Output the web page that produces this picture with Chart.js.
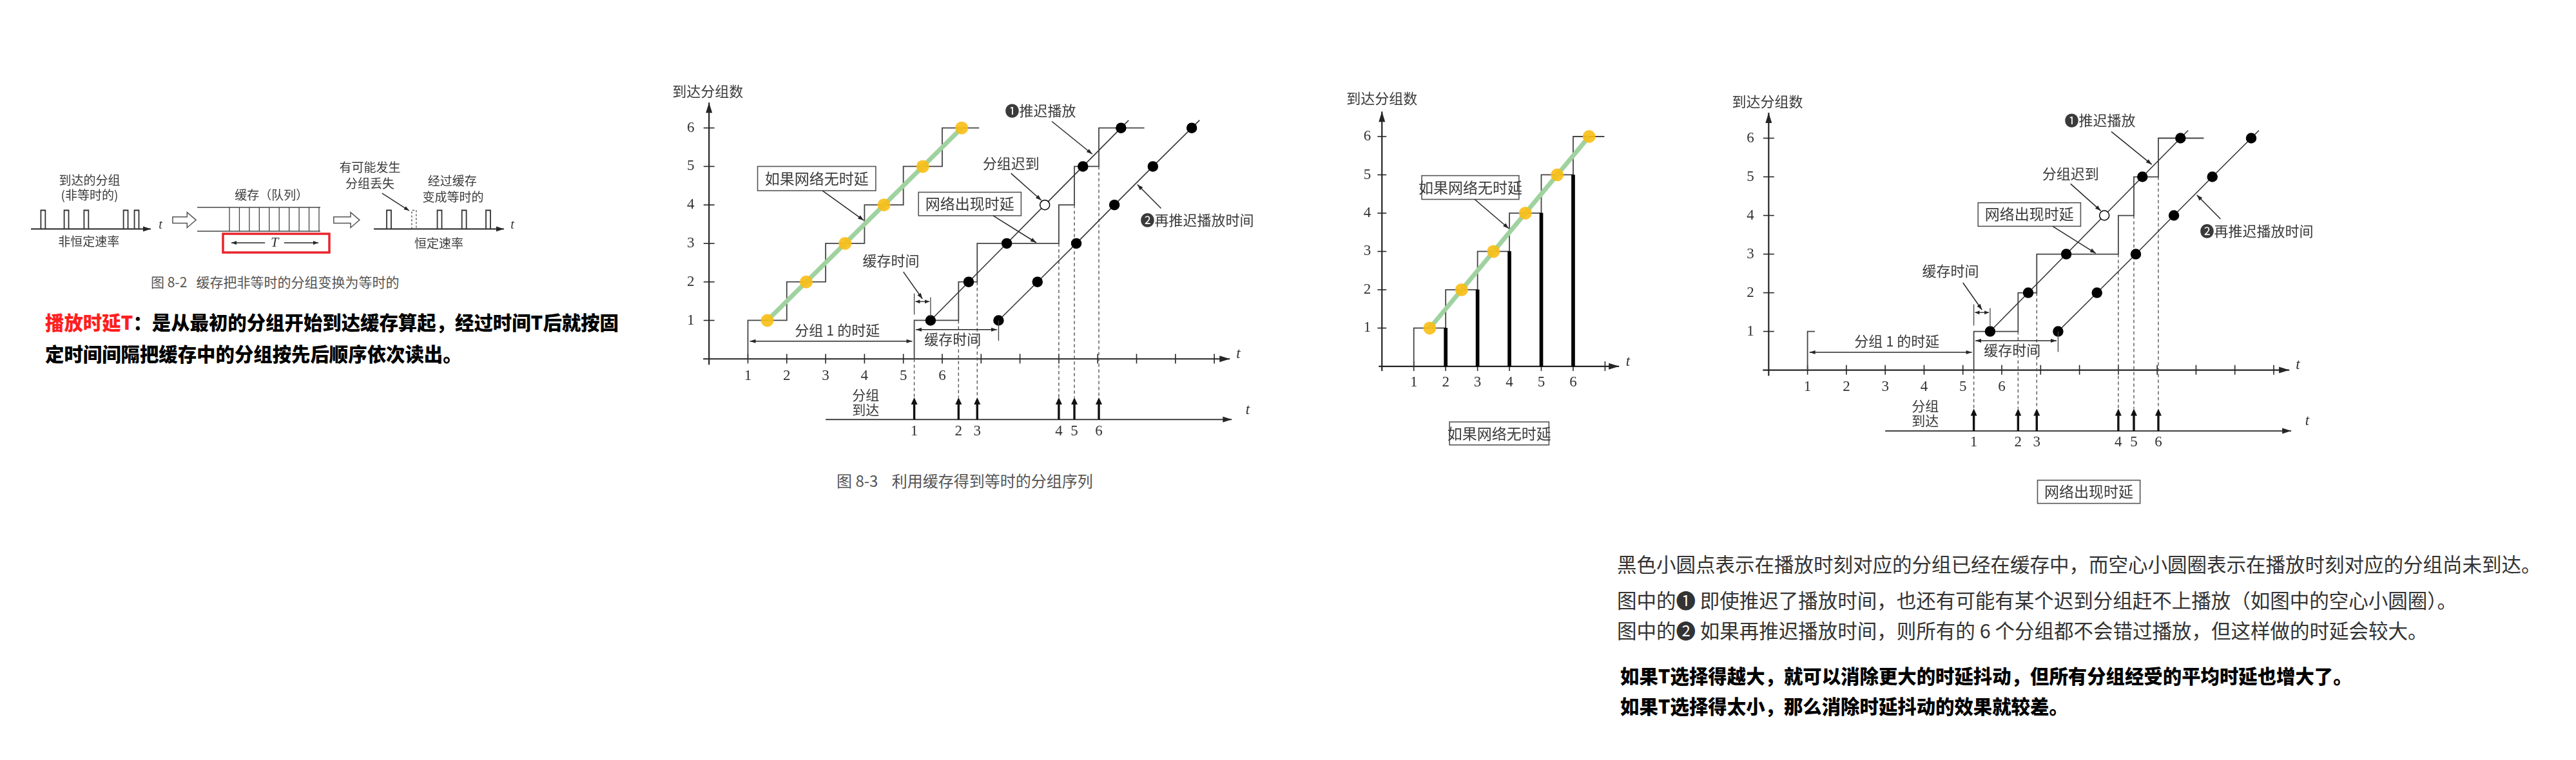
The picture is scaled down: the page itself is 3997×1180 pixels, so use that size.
<!DOCTYPE html>
<html lang="zh-CN">
<head>
<meta charset="utf-8">
<title>利用缓存得到等时的分组序列</title>
<script src="https://cdn.jsdelivr.net/npm/chart.js@4.4.1/dist/chart.umd.min.js"></script>
<style>
html,body{margin:0;padding:0;background:#fff;}
#page{position:relative;width:3997px;height:1180px;overflow:hidden;background:#fff;}
#page canvas{position:absolute;}
.t{position:absolute;white-space:nowrap;line-height:1;font-family:"Noto Sans CJK SC","Noto Sans",sans-serif;}
.bold{font-weight:900;font-size:29.4px;color:#000;}
.gray{font-weight:400;font-size:30.5px;color:#333;}
.cap{font-weight:400;color:#555;}
.red{color:#ff1f1f;}
</style>
</head>
<body>
<div id="page">
  <div class="t cap" style="left:234px;top:427px;font-size:21px;">图 8-2&nbsp;&nbsp;&nbsp;缓存把非等时的分组变换为等时的</div>
  <div class="t bold" style="left:70px;top:485px;"><span class="red">播放时延T</span>：是从最初的分组开始到达缓存算起，经过时间T后就按固</div>
  <div class="t bold" style="left:70px;top:534px;">定时间间隔把缓存中的分组按先后顺序依次读出。</div>
  <div class="t cap" style="left:1298px;top:734px;font-size:24px;">图 8-3&nbsp;&nbsp;&nbsp;&nbsp;利用缓存得到等时的分组序列</div>
  <div class="t gray" style="left:2509px;top:860px;">黑色小圆点表示在播放时刻对应的分组已经在缓存中，而空心小圆圈表示在播放时刻对应的分组尚未到达。</div>
  <div class="t gray" style="left:2509px;top:916px;">图中的❶ 即使推迟了播放时间，也还有可能有某个迟到分组赶不上播放（如图中的空心小圆圈）。</div>
  <div class="t gray" style="left:2509px;top:963px;">图中的❷ 如果再推迟播放时间，则所有的 6 个分组都不会错过播放，但这样做的时延会较大。</div>
  <div class="t bold" style="left:2514px;top:1034px;">如果T选择得越大，就可以消除更大的时延抖动，但所有分组经受的平均时延也增大了。</div>
  <div class="t bold" style="left:2514px;top:1081px;">如果T选择得太小，那么消除时延抖动的效果就较差。</div>
</div>
<script>
// ================= DATA =================
// Fig 8-2: arrival instants of the non-isochronous packets, and isochronous read-out instants
const irregularArrivals = [0.49, 1.43, 2.23, 3.82, 4.26];
const isochronousOutput = [0.61, 1.62, 2.65, 3.64, 4.61];
const lostOutputIndex = [1];
const bufferSlots = 9;

// Fig 8-3 and its two variants
const packets = [1, 2, 3, 4, 5, 6];
const idealArrival = [1, 2, 3, 4, 5, 6];            // no network delay
const idealPlayout = [1.5, 2.5, 3.5, 4.5, 5.5, 6.5];
const idealStepEnd = 6.95;
const delayedArrival = [5.28, 6.42, 6.9, 9.0, 9.4, 10.03];   // with network delay
const delayedStepEnd = 11.2;
const playout1 = [5.7, 6.68, 7.66, 8.64, 9.62, 10.6];       // ❶ delayed playout
const playout2 = [7.45, 8.45, 9.45, 10.43, 11.42, 12.42];   // ❷ further delayed playout
const firstArrivalStubEnd = 1.19;
const xTickValues = [1, 2, 3, 4, 5, 6, 7, 8, 9, 10, 11, 12, 13];
const xTickLabels = ['1', '2', '3', '4', '5', '6'];
const yTickValues = [1, 2, 3, 4, 5, 6];
const yTickLabels = ['1', '2', '3', '4', '5', '6'];
const arrivalLabels = ['1', '2', '3', '4', '5', '6'];

// middle variant: packets waiting in buffer
const bufferedTimes = [2, 3, 4, 5, 6];
const bufferedCounts = [1, 2, 3, 4, 5];
const middleStepEnd = 6.98;
const middleXTicks = [1, 2, 3, 4, 5, 6, 7];

// ================= HELPERS =================
const FONT_CJK = '"Noto Sans CJK SC", "DejaVu Sans", sans-serif';
const FONT_NUM = '"Liberation Serif", "DejaVu Serif", serif';
const INK = '#262626';
const TXT = '#3a3a3a';
const page = document.getElementById('page');

function frameCanvas(f) {
  const left = Math.round(f.ox + f.xmin * f.ux);
  const top = Math.round(f.oy - f.ymax * f.uy);
  const w = Math.round((f.xmax - f.xmin) * f.ux);
  const h = Math.round((f.ymax - f.ymin) * f.uy);
  f.xmin = (left - f.ox) / f.ux; f.xmax = f.xmin + w / f.ux;
  f.ymax = (f.oy - top) / f.uy; f.ymin = f.ymax - h / f.uy;
  const c = document.createElement('canvas');
  c.width = w; c.height = h;
  c.style.left = left + 'px'; c.style.top = top + 'px';
  c.style.width = w + 'px'; c.style.height = h + 'px';
  page.appendChild(c);
  return c;
}

function painter(chart) {
  const ctx = chart.ctx;
  const X = chart.scales.x, Y = chart.scales.y;
  const px = v => X.getPixelForValue(v), py = v => Y.getPixelForValue(v);
  const d = {
    px, py, ctx,
    line(x1, y1, x2, y2, o = {}) {
      ctx.save(); ctx.strokeStyle = o.c || INK; ctx.lineWidth = o.w || 1.6;
      ctx.setLineDash(o.dash || []); ctx.beginPath();
      ctx.moveTo(px(x1), py(y1)); ctx.lineTo(px(x2), py(y2)); ctx.stroke(); ctx.restore();
    },
    head(x1, y1, x2, y2, o = {}) {
      const ax = px(x1), ay = py(y1), bx = px(x2), by = py(y2);
      const L = o.len || 9, H = o.half || 3.5, a = Math.atan2(by - ay, bx - ax);
      ctx.save(); ctx.fillStyle = o.c || INK; ctx.beginPath();
      ctx.moveTo(bx, by);
      ctx.lineTo(bx - L * Math.cos(a) + H * Math.sin(a), by - L * Math.sin(a) - H * Math.cos(a));
      ctx.lineTo(bx - L * Math.cos(a) - H * Math.sin(a), by - L * Math.sin(a) + H * Math.cos(a));
      ctx.closePath(); ctx.fill(); ctx.restore();
    },
    arrow(x1, y1, x2, y2, o = {}) { d.line(x1, y1, x2, y2, o); d.head(x1, y1, x2, y2, o); },
    darrow(x1, y, x2, o = {}) { d.line(x1, y, x2, y, o); d.head(x2, y, x1, y, o); d.head(x1, y, x2, y, o); },
    text(s, x, y, o = {}) {
      ctx.save(); ctx.fillStyle = o.c || TXT;
      ctx.font = (o.style || 'normal') + ' ' + (o.weight || 400) + ' ' + (o.size || 22) + 'px ' + (o.family || FONT_CJK);
      ctx.textAlign = o.align || 'center'; ctx.textBaseline = 'middle';
      ctx.fillText(s, px(x), py(y)); ctx.restore();
    },
    rect(x1, y1, x2, y2, o = {}) {
      ctx.save(); ctx.strokeStyle = o.c || '#555'; ctx.lineWidth = o.w || 1.6;
      ctx.strokeRect(px(x1), py(y2), px(x2) - px(x1), py(y1) - py(y2)); ctx.restore();
    }
  };
  return d;
}

function makeChart(frame, datasets, before, after) {
  const c = frameCanvas(frame);
  return new Chart(c, {
    type: 'line',
    data: { datasets },
    options: {
      responsive: false, animation: false, events: [],
      layout: { padding: 0 },
      plugins: { legend: { display: false }, tooltip: { enabled: false }, title: { display: false } },
      scales: {
        x: { type: 'linear', display: false, bounds: 'data', min: frame.xmin, max: frame.xmax },
        y: { type: 'linear', display: false, bounds: 'data', min: frame.ymin, max: frame.ymax }
      }
    },
    plugins: [{
      id: 'deco',
      beforeDatasetsDraw(chart) { if (before) before(painter(chart)); },
      afterDatasetsDraw(chart) { if (after) after(painter(chart)); }
    }]
  });
}

function stairs(arrivals, endX) {
  const pts = [{ x: arrivals[0], y: 0 }];
  arrivals.forEach((a, i) => {
    if (i > 0) pts.push({ x: a, y: packets[i - 1] });
    pts.push({ x: a, y: packets[i] });
  });
  pts.push({ x: endX, y: packets[packets.length - 1] });
  return pts;
}

function playoutDataset(times, label) {
  const pts = times.map((x, i) => ({ x, y: packets[i] }));
  const n = pts.length;
  const ext = { x: pts[n - 1].x + (pts[n - 1].x - pts[n - 2].x) * 0.2, y: pts[n - 1].y + (pts[n - 1].y - pts[n - 2].y) * 0.2 };
  return {
    label, data: pts.concat([ext]), borderColor: '#333', borderWidth: 1.6,
    pointRadius: times.map(() => 7.5).concat([0]),
    pointBackgroundColor: times.map((t, i) => delayedArrival[i] <= t ? '#000' : '#fff').concat(['#000']),
    pointBorderColor: '#000', pointBorderWidth: 1.5, order: 1
  };
}

function drawAxes(d, a) {
  d.arrow(a.x0, 0, a.x1, 0, { w: 2.2, len: 16, half: 5 });
  d.arrow(0, a.y0, 0, a.y1, { w: 2.2, len: 16, half: 5 });
  a.xTicks.forEach(v => d.line(v, -0.12, v, 0.13, { w: 1.6 }));
  a.yTicks.forEach(v => d.line(-0.14, v, 0.14, v, { w: 1.6 }));
  a.xLabels.forEach((s, i) => d.text(s, a.xTicks[i], a.xLabelY, { family: FONT_NUM, size: 23, c: '#333' }));
  a.yLabels.forEach((s, i) => d.text(s, a.yLabelX, a.yTicks[i], { family: FONT_NUM, size: 23, c: '#333' }));
  d.text('t', a.t[0], a.t[1], { family: FONT_NUM, style: 'italic', size: 23, c: '#333' });
  d.text('到达分组数', a.title[0], a.title[1], { size: 22 });
}

// ---- shared annotations of the delayed-network figure (data units) ----
function drawDelayAnnotations(d, withIdealBox) {
  const T = { size: 22 };
  const P = { w: 1.5, len: 9, half: 3.2 };
  d.text('❶推迟播放', 8.53, 6.46, T);
  d.arrow(8.82, 6.17, 9.86, 5.32, P);
  d.text('分组迟到', 7.77, 5.08, T);
  d.arrow(7.77, 4.82, 8.55, 4.12, P);
  d.rect(5.39, 3.72, 8.03, 4.33, { c: '#555', w: 1.6 });
  d.text('网络出现时延', 6.71, 4.03, { size: 23 });
  d.arrow(7.31, 3.72, 8.42, 3.02, P);
  d.text('❷再推迟播放时间', 12.56, 3.6, T);
  d.arrow(11.63, 3.91, 11.02, 4.53, P);
  if (withIdealBox) {
    d.rect(1.25, 4.37, 4.29, 5.0, { c: '#555', w: 1.6 });
    d.text('如果网络无时延', 2.77, 4.69, { size: 23 });
    d.arrow(2.92, 4.37, 3.98, 3.6, P);
  }
  // buffer time (small) above first playout point
  d.text('缓存时间', 4.68, 2.56, T);
  d.arrow(5.0, 2.26, 5.49, 1.56, P);
  d.line(delayedArrival[0], 1.15, delayedArrival[0], 1.7, { w: 1.3, c: '#444' });
  d.line(playout1[0], 1.1, playout1[0], 1.6, { w: 1.3, c: '#444' });
  d.darrow(delayedArrival[0] + 0.03, 1.49, playout1[0] - 0.03, { w: 1.3, len: 7, half: 3 });
  // delay of packet 1
  d.darrow(idealArrival[0] + 0.05, 0.46, delayedArrival[0] - 0.05, { w: 1.4, len: 9, half: 3 });
  d.text('分组 1 的时延', 3.3, 0.75, T);
  // buffer time (large) to second playout start
  d.darrow(delayedArrival[0] + 0.04, 0.76, playout2[0] - 0.04, { w: 1.4, len: 9, half: 3 });
  d.line(playout2[0], 1, playout2[0], 0.47, { w: 1.4, c: '#444' });
  d.text('缓存时间', 6.27, 0.52, T);
  // arrival row
  const base = -1.575, tip = -1.0;
  d.arrow(3.0, base, 13.45, base, { w: 1.8, len: 14, half: 4.5 });
  d.text('t', 13.86, -1.33, { family: FONT_NUM, style: 'italic', size: 23, c: '#333' });
  d.text('分组', 4.03, -0.93, { size: 21 });
  d.text('到达', 4.03, -1.31, { size: 21 });
  delayedArrival.forEach((a, i) => {
    d.line(a, base, a, tip - 0.1, { w: 3.4, c: '#111' });
    d.head(a, base, a, tip, { len: 11, half: 5, c: '#111' });
    d.text(arrivalLabels[i], a, -1.88, { family: FONT_NUM, size: 23, c: '#333' });
  });
}

function delayDatasets(full) {
  const ds = [];
  if (full) {
    ds.push({ label: '如果网络无时延', data: idealPlayout.map((x, i) => ({ x, y: packets[i] })),
      borderColor: 'rgb(160,210,160)', borderWidth: 7, pointRadius: 10,
      pointBackgroundColor: 'rgba(250,190,20,0.9)', pointBorderWidth: 0, order: 0 });
    ds.push({ label: '无时延到达', data: stairs(idealArrival, idealStepEnd), borderColor: '#444',
      borderWidth: 1.8, pointRadius: 0, order: 5 });
  } else {
    ds.push({ label: '分组1', data: [{ x: idealArrival[0], y: 0 }, { x: idealArrival[0], y: packets[0] }, { x: firstArrivalStubEnd, y: packets[0] }],
      borderColor: '#444', borderWidth: 1.8, pointRadius: 0, order: 5 });
  }
  ds.push(playoutDataset(playout1, '❶推迟播放'));
  ds.push(playoutDataset(playout2, '❷再推迟播放时间'));
  ds.push({ label: '网络出现时延', data: stairs(delayedArrival, delayedStepEnd), borderColor: '#444',
    borderWidth: 1.8, pointRadius: 0, order: 5 });
  delayedArrival.forEach((a, i) => ds.push({ label: 'drop' + i, data: [{ x: a, y: i === 0 ? 0 : packets[i - 1] }, { x: a, y: -1.0 }],
    borderColor: '#555', borderWidth: 1.4, borderDash: [5, 4], pointRadius: 0, order: 6 }));
  return ds;
}

const delayAxes = {
  x0: -0.15, x1: 13.4, y0: -0.15, y1: 6.66,
  xTicks: xTickValues, xLabels: xTickLabels, yTicks: yTickValues, yLabels: yTickLabels,
  xLabelY: -0.44, yLabelX: -0.47, t: [13.62, 0.12], title: [-0.03, 6.95]
};

// ================= FIG 8-3 =================
makeChart({ ox: 1092, oy: 561, ux: 61.55, uy: 61.6, xmin: -1.5, xmax: 14.6, ymin: -3.4, ymax: 7.5 },
  delayDatasets(true),
  d => drawAxes(d, delayAxes),
  d => drawDelayAnnotations(d, true));

// ================= RIGHT VARIANT =================
makeChart({ ox: 2737, oy: 577.5, ux: 61.4, uy: 61.6, xmin: -1.5, xmax: 14.6, ymin: -3.8, ymax: 7.5 },
  delayDatasets(false),
  d => drawAxes(d, delayAxes),
  d => {
    drawDelayAnnotations(d, false);
    d.rect(6.92, -3.45, 9.56, -2.85, { c: '#555', w: 1.6 });
    d.text('网络出现时延', 8.24, -3.15, { size: 23 });
  });

// ================= MIDDLE VARIANT =================
makeChart({ ox: 2103, oy: 574, ux: 61.4, uy: 61.5, xmin: -1.4, xmax: 8.3, ymin: -2.4, ymax: 7.5 },
  [
    { label: '如果网络无时延', data: idealPlayout.map((x, i) => ({ x, y: packets[i] })),
      borderColor: 'rgb(160,210,160)', borderWidth: 7, pointRadius: 10,
      pointBackgroundColor: 'rgba(250,190,20,0.9)', pointBorderWidth: 0, order: 0 },
    { type: 'bar', label: '缓存中的分组', data: bufferedTimes.map((x, i) => ({ x, y: bufferedCounts[i] })),
      backgroundColor: '#000', borderWidth: 0, barThickness: 5, order: 3 },
    { label: '到达', data: stairs(idealArrival, middleStepEnd), borderColor: '#444', borderWidth: 1.8, pointRadius: 0, order: 5 }
  ],
  d => drawAxes(d, { x0: -0.1, x1: 7.44, y0: -0.12, y1: 6.65, xTicks: middleXTicks, xLabels: xTickLabels,
    yTicks: yTickValues, yLabels: yTickLabels, xLabelY: -0.42, yLabelX: -0.46, t: [7.72, 0.12], title: [0, 6.99] }),
  d => {
    d.rect(1.25, 4.36, 4.3, 4.98, { c: '#555', w: 1.6 });
    d.text('如果网络无时延', 2.775, 4.67, { size: 23 });
    d.arrow(2.91, 4.36, 3.98, 3.6, { w: 1.5, len: 9, half: 3.2 });
    d.rect(2.12, -2.05, 5.24, -1.45, { c: '#555', w: 1.6 });
    d.text('如果网络无时延', 3.68, -1.75, { size: 23 });
  });

// ================= FIG 8-2 =================
const L82 = { leftStart: 1.247, leftEnd: 6.078, rightStart: 15.065, rightEnd: 20.31, pulseW: 0.18 };
function pulses(times, start, skip) {
  const pts = [];
  times.forEach((t, i) => {
    if (skip && skip.includes(i)) return;
    const a = start + t - L82.pulseW / 2, b = start + t + L82.pulseW / 2;
    pts.push({ x: a, y: 0 }, { x: a, y: 1 }, { x: b, y: 1 }, { x: b, y: 0 }, { x: b, y: null });
  });
  return pts;
}
function blockArrow(d, x1, x2, c) {
  const h1 = 0.17, h2 = 0.41, hl = 0.36, ctx = d.ctx;
  const pts = [[x1, c + h1], [x2 - hl, c + h1], [x2 - hl, c + h2], [x2, c], [x2 - hl, c - h2], [x2 - hl, c - h1], [x1, c - h1]];
  ctx.save(); ctx.strokeStyle = '#555'; ctx.lineWidth = 1.5; ctx.beginPath();
  pts.forEach((p, i) => i ? ctx.lineTo(d.px(p[0]), d.py(p[1])) : ctx.moveTo(d.px(p[0]), d.py(p[1])));
  ctx.closePath(); ctx.stroke(); ctx.restore();
}
makeChart({ ox: 0, oy: 355.5, ux: 38.5, uy: 29, xmin: 0, xmax: 21.8, ymin: -3.9, ymax: 3.95 },
  [
    { label: '到达的分组', data: pulses(irregularArrivals, L82.leftStart), borderColor: '#333', borderWidth: 1.8, pointRadius: 0 },
    { label: '恒定速率', data: pulses(isochronousOutput, L82.rightStart, lostOutputIndex), borderColor: '#333', borderWidth: 1.8, pointRadius: 0 },
    { label: '分组丢失', data: pulses(isochronousOutput.filter((t, i) => lostOutputIndex.includes(i)), L82.rightStart), borderColor: '#555', borderWidth: 1.4, borderDash: [3, 3], pointRadius: 0 }
  ],
  d => {
    d.arrow(L82.leftStart, 0, L82.leftEnd, 0, { w: 1.8, len: 12, half: 4 });
    d.arrow(L82.rightStart, 0, L82.rightEnd, 0, { w: 1.8, len: 12, half: 4 });
  },
  d => {
    const S = { size: 19 };
    d.text('t', 6.47, 0.19, { family: FONT_NUM, style: 'italic', size: 20, c: '#333' });
    d.text('t', 20.65, 0.19, { family: FONT_NUM, style: 'italic', size: 20, c: '#333' });
    d.text('到达的分组', 3.61, 2.6, S);
    d.text('(非等时的)', 3.61, 1.81, S);
    d.text('非恒定速率', 3.58, -0.67, S);
    d.text('缓存（队列）', 10.94, 1.81, S);
    d.text('有可能发生', 14.91, 3.29, S);
    d.text('分组丢失', 14.91, 2.43, S);
    d.arrow(15.4, 1.91, 16.49, 0.98, { w: 1.3, len: 8, half: 3 });
    d.text('经过缓存', 18.23, 2.57, S);
    d.text('变成等时的', 18.26, 1.71, S);
    d.text('恒定速率', 17.69, -0.78, S);
    // buffer (queue)
    d.line(7.948, 1.155, 12.91, 1.155, { w: 1.5, c: '#444' });
    d.line(7.948, -0.121, 12.91, -0.121, { w: 1.5, c: '#444' });
    const x0 = 9.247, step = (12.857 - 9.247) / bufferSlots;
    for (let k = 0; k <= bufferSlots; k++) d.line(x0 + k * step, 1.155, x0 + k * step, -0.121, { w: 1.3, c: '#444' });
    blockArrow(d, 6.96, 7.9, 0.48);
    blockArrow(d, 13.45, 14.49, 0.48);
    // red box with T
    d.rect(8.987, -1.259, 13.273, -0.259, { c: '#e8242c', w: 3.5 });
    d.arrow(10.68, -0.741, 9.325, -0.741, { w: 1.3, len: 8, half: 3 });
    d.arrow(11.45, -0.741, 12.83, -0.741, { w: 1.3, len: 8, half: 3 });
    d.text('T', 11.065, -0.741, { family: FONT_NUM, style: 'italic', size: 22, c: '#333' });
  });
</script>
</body>
</html>
